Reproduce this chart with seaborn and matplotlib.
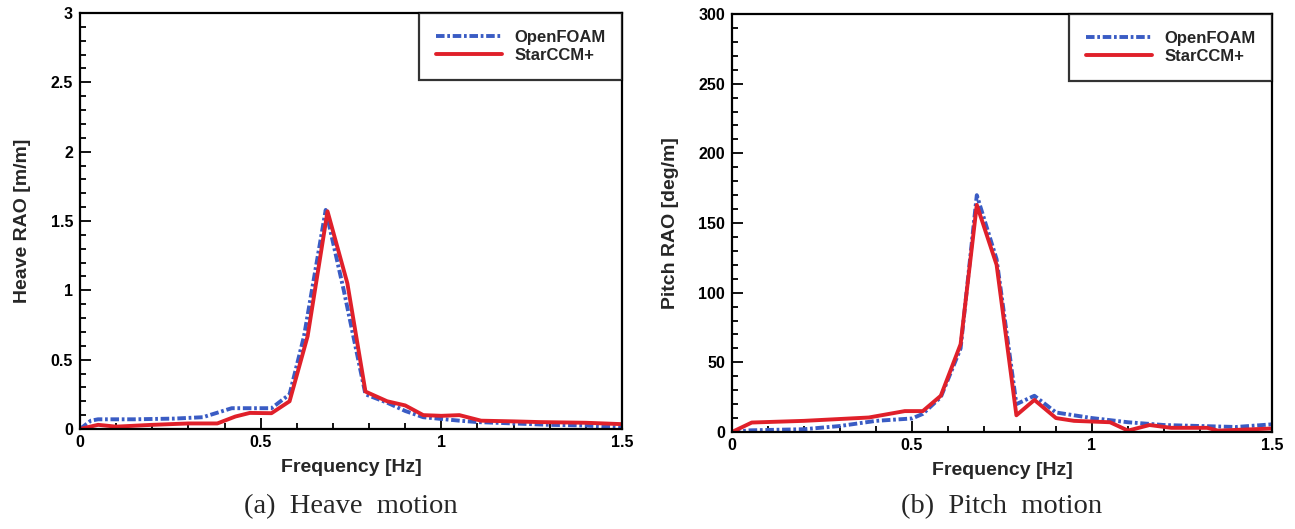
import numpy as np
import pandas as pd
import matplotlib
matplotlib.use("Agg")
import matplotlib.pyplot as plt
import seaborn as sns
from matplotlib.ticker import MultipleLocator, FuncFormatter

# ---------------- data ----------------
heave_freq_of = [0.0, 0.03, 0.05, 0.15, 0.26, 0.34, 0.42, 0.47, 0.53, 0.58, 0.62, 0.68, 0.73, 0.79, 0.85, 0.90, 0.95, 1.05, 1.10, 1.20, 1.30, 1.40, 1.50]
heave_of      = [0.0, 0.06, 0.07, 0.07, 0.075, 0.085, 0.15, 0.15, 0.15, 0.25, 0.67, 1.58, 1.0, 0.25, 0.19, 0.13, 0.085, 0.06, 0.05, 0.04, 0.03, 0.025, 0.01]

heave_freq_sc = [0.0, 0.05, 0.10, 0.20, 0.30, 0.38, 0.43, 0.47, 0.53, 0.58, 0.63, 0.685, 0.74, 0.79, 0.85, 0.90, 0.95, 1.00, 1.05, 1.11, 1.20, 1.27, 1.40, 1.50]
heave_sc      = [0.0, 0.03, 0.017, 0.03, 0.04, 0.04, 0.09, 0.116, 0.114, 0.2, 0.67, 1.57, 1.05, 0.27, 0.2, 0.17, 0.10, 0.095, 0.10, 0.06, 0.055, 0.05, 0.045, 0.035]

pitch_freq_of = [0.0, 0.05, 0.20, 0.30, 0.40, 0.50, 0.53, 0.58, 0.635, 0.68, 0.735, 0.79, 0.84, 0.90, 1.00, 1.10, 1.20, 1.30, 1.40, 1.50]
pitch_of      = [0.0, 1.2, 2.0, 4.3, 8.0, 9.7, 13.0, 25.0, 60.0, 170.0, 124.0, 20.0, 26.0, 14.0, 10.0, 7.0, 5.0, 4.3, 3.6, 5.5]

pitch_freq_sc = [0.0, 0.055, 0.20, 0.38, 0.48, 0.53, 0.58, 0.635, 0.68, 0.735, 0.79, 0.84, 0.90, 0.95, 1.05, 1.10, 1.16, 1.22, 1.32, 1.35, 1.50]
pitch_sc      = [0.0, 6.8, 8.0, 10.4, 15.0, 15.0, 26.0, 63.0, 163.0, 120.0, 12.0, 23.0, 10.0, 8.0, 7.0, 1.0, 5.0, 3.0, 3.0, 1.0, 2.5]

series_names = ["OpenFOAM", "StarCCM+"]
captions = ["(a)  Heave  motion", "(b)  Pitch  motion"]
ylabels = ["Heave RAO [m/m]", "Pitch RAO [deg/m]"]
xlabel = "Frequency [Hz]"

# ---------------- style ----------------
sns.set_style("white")
plt.rcParams["font.family"] = ["Liberation Sans", "DejaVu Sans"]
plt.rcParams["font.weight"] = "bold"

blue = "#3a5cc4"
red = "#e0202a"

fig = plt.figure(figsize=(12.95, 5.29), dpi=100)
ax1 = fig.add_axes([80/1295, 1-429/529, 542/1295, 416/529])
ax2 = fig.add_axes([732/1295, 1-432/529, 540/1295, 418/529])

def make_df(f1, v1, f2, v2):
    d1 = pd.DataFrame({"f": f1, "v": v1, "s": series_names[0]})
    d2 = pd.DataFrame({"f": f2, "v": v2, "s": series_names[1]})
    return pd.concat([d1, d2], ignore_index=True)

dfs = [make_df(heave_freq_of, heave_of, heave_freq_sc, heave_sc),
       make_df(pitch_freq_of, pitch_of, pitch_freq_sc, pitch_sc)]
ylims = [(0, 3), (0, 300)]
ymajor = [0.5, 50]
yminor = [0.1, 10]

for i, (ax, df) in enumerate(zip([ax1, ax2], dfs)):
    sns.lineplot(data=df, x="f", y="v", hue="s", style="s",
                 palette={series_names[0]: blue, series_names[1]: red},
                 dashes={series_names[0]: (2.2, 0.7, 0.7, 0.7), series_names[1]: ""},
                 linewidth=2.8, estimator=None, sort=False, ax=ax)
    ax.set_xlim(0, 1.5)
    ax.set_ylim(*ylims[i])
    ax.xaxis.set_major_locator(MultipleLocator(0.5))
    ax.xaxis.set_minor_locator(MultipleLocator(0.1))
    ax.yaxis.set_major_locator(MultipleLocator(ymajor[i]))
    ax.yaxis.set_minor_locator(MultipleLocator(yminor[i]))
    ax.xaxis.set_major_formatter(FuncFormatter(lambda v, p: f"{v:g}"))
    ax.yaxis.set_major_formatter(FuncFormatter(lambda v, p: f"{v:g}"))
    ax.tick_params(which="both", direction="in", left=True, bottom=True,
                   top=False, right=False, colors="black", labelsize=11.5, width=1.3)
    ax.tick_params(which="major", length=8)
    ax.tick_params(which="minor", length=4)
    ax.tick_params(axis="y", which="major", pad=5)
    ax.tick_params(axis="x", which="major", pad=4)
    for lab in ax.get_xticklabels() + ax.get_yticklabels():
        lab.set_fontweight("bold")
    for sp in ax.spines.values():
        sp.set_color("black")
        sp.set_linewidth(1.6)
    ax.set_xlabel(xlabel, fontsize=14, fontweight="bold", labelpad=7)
    ax.set_ylabel(ylabels[i], fontsize=14, fontweight="bold", labelpad=14)
    leg = ax.legend(loc="upper right", borderaxespad=0, frameon=True, fancybox=False,
                    handlelength=4.0, prop={"weight": "bold", "size": 12},
                    borderpad=1.0, labelspacing=0.2, handletextpad=0.7)
    leg.get_frame().set_edgecolor("black")
    leg.get_frame().set_linewidth(1.6)
    ax.set_title("")
    x_center = (ax.get_position().x0 + ax.get_position().x1) / 2
    fig.text(x_center, 1 - 507/529, captions[i], ha="center", va="center",
             fontsize=20.5, family=["Liberation Serif", "DejaVu Serif"], fontweight="normal")

fig.savefig("out.png", dpi=100, facecolor="white")
